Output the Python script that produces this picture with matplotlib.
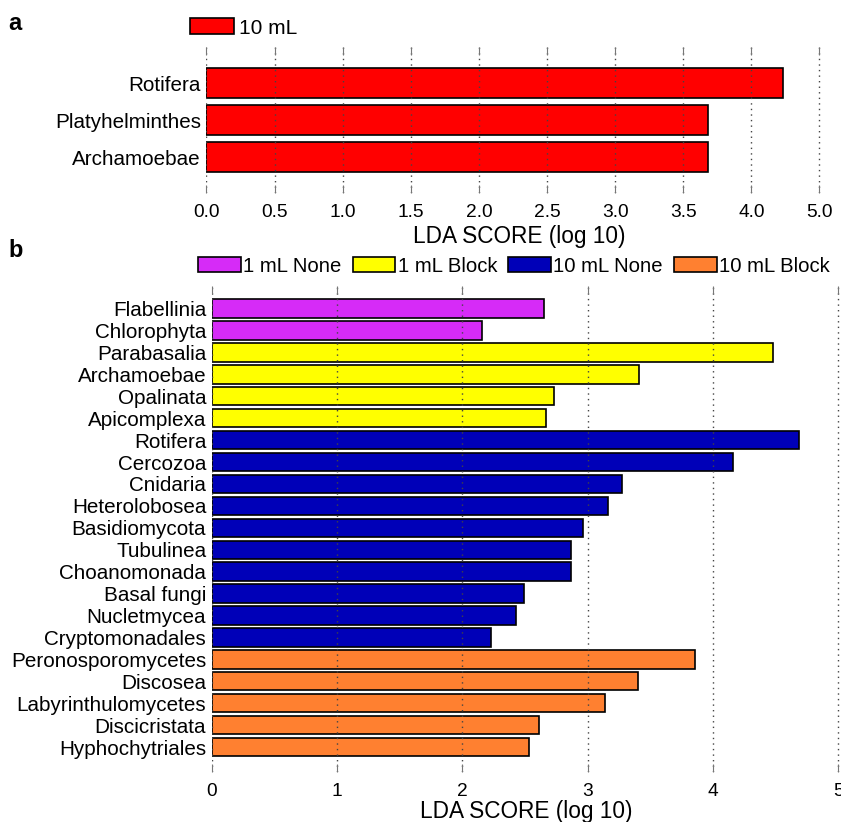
import matplotlib.pyplot as plt
from matplotlib.patches import Patch

plt.rcParams['font.family'] = ['Liberation Sans', 'DejaVu Sans']

# panel a
taxa_a = ['Rotifera', 'Platyhelminthes', 'Archamoebae']
lda_a = [4.23, 3.68, 3.68]
ticks_a = [0.0, 0.5, 1.0, 1.5, 2.0, 2.5, 3.0, 3.5, 4.0, 4.5]
ticklabels_a = ['0.0', '0.5', '1.0', '1.5', '2.0', '2.5', '3.0', '3.5', '4.0', '5.0']

# panel b
taxa_b = ['Flabellinia', 'Chlorophyta', 'Parabasalia', 'Archamoebae', 'Opalinata',
          'Apicomplexa', 'Rotifera', 'Cercozoa', 'Cnidaria', 'Heterolobosea',
          'Basidiomycota', 'Tubulinea', 'Choanomonada', 'Basal fungi', 'Nucletmycea',
          'Cryptomonadales', 'Peronosporomycetes', 'Discosea', 'Labyrinthulomycetes',
          'Discicristata', 'Hyphochytriales']
lda_b = [2.65, 2.16, 4.48, 3.41, 2.73, 2.67, 4.69, 4.16, 3.27, 3.16,
         2.96, 2.87, 2.87, 2.49, 2.43, 2.23, 3.86, 3.40, 3.14, 2.61, 2.53]
groups_b = ['1 mL None'] * 2 + ['1 mL Block'] * 4 + ['10 mL None'] * 10 + ['10 mL Block'] * 5
ticks_b = [0, 1, 2, 3, 4, 5]

colors = {'10 mL': '#FF0000', '1 mL None': '#D62BF7', '1 mL Block': '#FFFF00',
          '10 mL None': '#0000B8', '10 mL Block': '#FF8030'}
group_order = ['1 mL None', '1 mL Block', '10 mL None', '10 mL Block']

fig = plt.figure(figsize=(8.41, 8.22), dpi=100)

def style_axis(ax):
    for s in ax.spines.values():
        s.set_visible(False)
    ax.grid(True, axis='x', linestyle=(0, (1, 3)), color='#444444', linewidth=1.0)
    ax.set_axisbelow(False)
    ax.tick_params(axis='x', top=True, bottom=True, direction='in', length=6,
                   color='#777777', labelsize=13.8, pad=8)
    ax.tick_params(axis='y', length=0, labelsize=14.9, pad=4)

# a
ax1 = fig.add_axes([0.2455, 0.7652, 0.745, 0.1776])
ax1.barh(range(len(taxa_a)), lda_a, height=0.81, color=colors['10 mL'],
         edgecolor='black', linewidth=1.2)
ax1.set_ylim(2.96, -0.97)
ax1.set_xlim(0, 4.6)
ax1.set_yticks(range(len(taxa_a)))
ax1.set_yticklabels(taxa_a)
ax1.set_xticks(ticks_a)
ax1.set_xticklabels(ticklabels_a)
style_axis(ax1)
ax1.set_xlabel('LDA SCORE (log 10)', fontsize=16.3, labelpad=3)
fig.legend(handles=[Patch(facecolor=colors['10 mL'], edgecolor='black', linewidth=1.2, label='10 mL')],
           loc='center left', bbox_to_anchor=(190 / 841, 1 - 28 / 822), frameon=False,
           fontsize=15, handlelength=2.1, handleheight=0.8, handletextpad=0.25,
           borderpad=0, borderaxespad=0)
fig.text(0.01, 0.985, 'a', fontsize=17, fontweight='bold', va='top')

# b
ax2 = fig.add_axes([0.2518, 0.0608, 0.748, 0.5913])
ax2.barh(range(len(taxa_b)), lda_b, height=0.84,
         color=[colors[g] for g in groups_b], edgecolor='black', linewidth=1.2)
ax2.set_ylim(21.14, -1.03)
ax2.set_xlim(0, 5.02)
ax2.set_yticks(range(len(taxa_b)))
ax2.set_yticklabels(taxa_b)
ax2.set_xticks(ticks_b)
style_axis(ax2)
ax2.set_xlabel('LDA SCORE (log 10)', fontsize=16.3, labelpad=0)
fig.legend(handles=[Patch(facecolor=colors[g], edgecolor='black', linewidth=1.2, label=g)
                    for g in group_order],
           loc='center', bbox_to_anchor=(514 / 841, 1 - 266 / 822), ncol=4, frameon=False,
           fontsize=14.6, handlelength=2.1, handleheight=0.8, handletextpad=0.12,
           columnspacing=0.55, borderpad=0, borderaxespad=0)
fig.text(0.01, 0.695, 'b', fontsize=17, fontweight='bold', va='center')

fig.savefig('out.png', dpi=100)
